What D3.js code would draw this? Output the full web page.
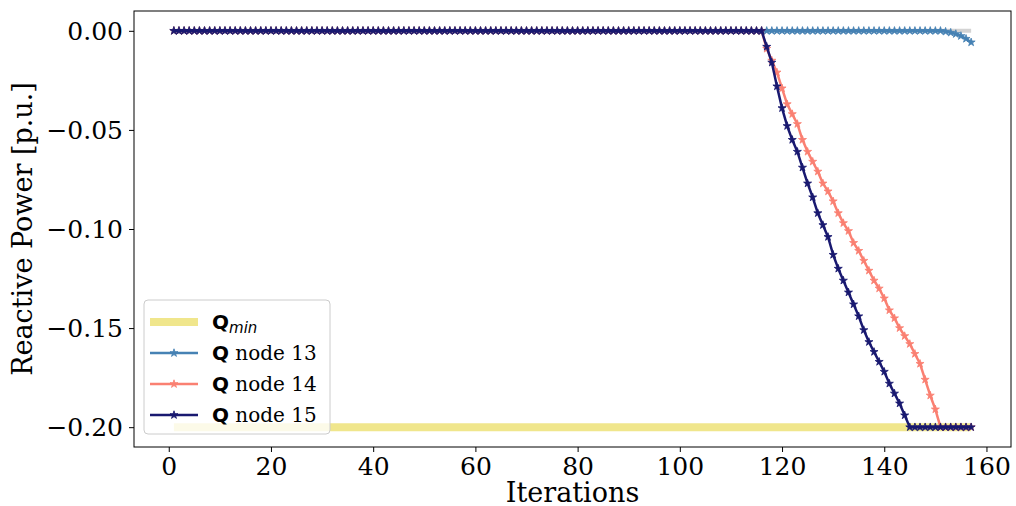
<!DOCTYPE html>
<html lang="en">
<head>
  <meta charset="UTF-8">
  <script src="https://d3js.org/d3.v7.min.js"></script>
  <title>Reactive Power per Iteration</title>
  <style>
    body { margin: 0; background: #fff; }
    .axis text { font-family: "DejaVu Serif", serif; font-size: 25px; fill: #000; }
    .axis path, .axis line { stroke: #000; stroke-width: 1px; }
    .label { font-family: "DejaVu Serif", serif; font-size: 27px; fill: #000; }
    .legend text { font-family: "DejaVu Serif", serif; font-size: 20px; fill: #000; }
  </style>
</head>
<body>
  <svg width="1016" height="506"></svg>
  <script>
    const width = 1016, height = 506;
    const margin = { top: 11, right: 5, bottom: 59, left: 134 };

    // iterations 1..157
    const iterations = d3.range(1, 158);

    // Qmax (grey, hidden under the others) and Qmin limits
    const qMax = [
      0,0,0,0,0,0,0,0,0,0,0,0,0,0,0,0,0,0,0,0,
      0,0,0,0,0,0,0,0,0,0,0,0,0,0,0,0,0,0,0,0,
      0,0,0,0,0,0,0,0,0,0,0,0,0,0,0,0,0,0,0,0,
      0,0,0,0,0,0,0,0,0,0,0,0,0,0,0,0,0,0,0,0,
      0,0,0,0,0,0,0,0,0,0,0,0,0,0,0,0,0,0,0,0,
      0,0,0,0,0,0,0,0,0,0,0,0,0,0,0,0,0,0,0,0,
      0,0,0,0,0,0,0,0,0,0,0,0,0,0,0,0,0,0,0,0,
      0,0,0,0,0,0,0,0,0,0,0,0,0,0,0,0,0
    ];
    const qMin = [
      -0.2,-0.2,-0.2,-0.2,-0.2,-0.2,-0.2,-0.2,-0.2,-0.2,-0.2,-0.2,-0.2,-0.2,-0.2,-0.2,-0.2,-0.2,-0.2,-0.2,
      -0.2,-0.2,-0.2,-0.2,-0.2,-0.2,-0.2,-0.2,-0.2,-0.2,-0.2,-0.2,-0.2,-0.2,-0.2,-0.2,-0.2,-0.2,-0.2,-0.2,
      -0.2,-0.2,-0.2,-0.2,-0.2,-0.2,-0.2,-0.2,-0.2,-0.2,-0.2,-0.2,-0.2,-0.2,-0.2,-0.2,-0.2,-0.2,-0.2,-0.2,
      -0.2,-0.2,-0.2,-0.2,-0.2,-0.2,-0.2,-0.2,-0.2,-0.2,-0.2,-0.2,-0.2,-0.2,-0.2,-0.2,-0.2,-0.2,-0.2,-0.2,
      -0.2,-0.2,-0.2,-0.2,-0.2,-0.2,-0.2,-0.2,-0.2,-0.2,-0.2,-0.2,-0.2,-0.2,-0.2,-0.2,-0.2,-0.2,-0.2,-0.2,
      -0.2,-0.2,-0.2,-0.2,-0.2,-0.2,-0.2,-0.2,-0.2,-0.2,-0.2,-0.2,-0.2,-0.2,-0.2,-0.2,-0.2,-0.2,-0.2,-0.2,
      -0.2,-0.2,-0.2,-0.2,-0.2,-0.2,-0.2,-0.2,-0.2,-0.2,-0.2,-0.2,-0.2,-0.2,-0.2,-0.2,-0.2,-0.2,-0.2,-0.2,
      -0.2,-0.2,-0.2,-0.2,-0.2,-0.2,-0.2,-0.2,-0.2,-0.2,-0.2,-0.2,-0.2,-0.2,-0.2,-0.2,-0.2
    ];

    // node 13: flat, small dip at the very end
    const qNode13 = [
      0,0,0,0,0,0,0,0,0,0,0,0,0,0,0,0,0,0,0,0,
      0,0,0,0,0,0,0,0,0,0,0,0,0,0,0,0,0,0,0,0,
      0,0,0,0,0,0,0,0,0,0,0,0,0,0,0,0,0,0,0,0,
      0,0,0,0,0,0,0,0,0,0,0,0,0,0,0,0,0,0,0,0,
      0,0,0,0,0,0,0,0,0,0,0,0,0,0,0,0,0,0,0,0,
      0,0,0,0,0,0,0,0,0,0,0,0,0,0,0,0,0,0,0,0,
      0,0,0,0,0,0,0,0,0,0,0,0,0,0,0,0,0,0,0,0,
      0,0,0,0,0,0,0,0,0,0,0,-0.0004,-0.0009,-0.0016,-0.0026,-0.004,-0.0058
    ];

    // node 14
    const qNode14 = [
      0,0,0,0,0,0,0,0,0,0,0,0,0,0,0,0,0,0,0,0,
      0,0,0,0,0,0,0,0,0,0,0,0,0,0,0,0,0,0,0,0,
      0,0,0,0,0,0,0,0,0,0,0,0,0,0,0,0,0,0,0,0,
      0,0,0,0,0,0,0,0,0,0,0,0,0,0,0,0,0,0,0,0,
      0,0,0,0,0,0,0,0,0,0,0,0,0,0,0,0,0,0,0,0,
      0,0,0,0,0,0,0,0,0,0,0,0,0,0,0,0,
      -0.009,-0.015,-0.021,-0.029,-0.037,-0.042,-0.047,-0.055,-0.061,-0.066,
      -0.071,-0.077,-0.081,-0.086,-0.092,-0.097,-0.101,-0.107,-0.111,-0.116,
      -0.121,-0.126,-0.130,-0.135,-0.141,-0.145,-0.150,-0.154,-0.158,-0.163,
      -0.168,-0.176,-0.184,-0.191,-0.2,
      -0.2,-0.2,-0.2,-0.2,-0.2,-0.2
    ];

    // node 15
    const qNode15 = [
      0,0,0,0,0,0,0,0,0,0,0,0,0,0,0,0,0,0,0,0,
      0,0,0,0,0,0,0,0,0,0,0,0,0,0,0,0,0,0,0,0,
      0,0,0,0,0,0,0,0,0,0,0,0,0,0,0,0,0,0,0,0,
      0,0,0,0,0,0,0,0,0,0,0,0,0,0,0,0,0,0,0,0,
      0,0,0,0,0,0,0,0,0,0,0,0,0,0,0,0,0,0,0,0,
      0,0,0,0,0,0,0,0,0,0,0,0,0,0,0,0,
      -0.008,-0.016,-0.028,-0.039,-0.048,-0.055,-0.061,-0.069,-0.077,-0.084,
      -0.092,-0.098,-0.104,-0.113,-0.120,-0.126,-0.132,-0.138,-0.144,-0.151,
      -0.157,-0.162,-0.167,-0.172,-0.178,-0.183,-0.188,-0.194,-0.2,
      -0.2,-0.2,-0.2,-0.2,-0.2,-0.2,-0.2,-0.2,-0.2,-0.2,-0.2,-0.2
    ];

    const xTicks = [0, 20, 40, 60, 80, 100, 120, 140, 160];
    const yTicks = [0, -0.05, -0.10, -0.15, -0.20];

    const series = [
      { key: "qmax", values: qMax, color: "#d3d3d3", width: 4, marker: false },
      { key: "qmin", values: qMin, color: "#f0e68c", width: 8, marker: false },
      { key: "13", values: qNode13, color: "#4682b4", width: 2.5, marker: true },
      { key: "14", values: qNode14, color: "#fa8072", width: 2.5, marker: true },
      { key: "15", values: qNode15, color: "#191970", width: 2.5, marker: true }
    ];

    const svg = d3.select("svg");
    const x = d3.scaleLinear().domain([-6.8, 164.8]).range([margin.left, width - margin.right]);
    const y = d3.scaleLinear().domain([-0.21, 0.01]).range([height - margin.bottom, margin.top]);
    const minus = s => s.replace("-", "\u2212");

    const line = d3.line()
      .x((d, i) => x(iterations[i]))
      .y(d => y(d));

    const star = d3.symbol().type(d3.symbolStar).size(20);

    series.forEach(s => {
      svg.append("path")
        .attr("d", line(s.values))
        .attr("fill", "none")
        .attr("stroke", s.color)
        .attr("stroke-width", s.width)
        .attr("stroke-linejoin", "round");
      if (s.marker) {
        svg.append("g").selectAll("path")
          .data(s.values)
          .join("path")
          .attr("d", star)
          .attr("transform", (d, i) => `translate(${x(iterations[i])},${y(d)})`)
          .attr("fill", s.color)
          .attr("stroke", s.color)
          .attr("stroke-width", 0.8);
      }
    });

    // axes
    svg.append("g")
      .attr("class", "axis")
      .attr("transform", `translate(0,${height - margin.bottom})`)
      .call(d3.axisBottom(x).tickValues(xTicks).tickSize(5).tickPadding(5).tickFormat(d3.format("d")))
      .call(g => g.select(".domain").remove());

    svg.append("g")
      .attr("class", "axis")
      .attr("transform", `translate(${margin.left},0)`)
      .call(d3.axisLeft(y).tickValues(yTicks).tickSize(5).tickPadding(6).tickFormat(d => minus(d3.format(".2f")(d))))
      .call(g => g.select(".domain").remove())
      .selectAll("text").attr("dy", "0.35em");

    // frame
    svg.append("rect")
      .attr("x", margin.left)
      .attr("y", margin.top)
      .attr("width", width - margin.left - margin.right)
      .attr("height", height - margin.top - margin.bottom)
      .attr("fill", "none")
      .attr("stroke", "#000")
      .attr("stroke-width", 1);

    svg.append("text")
      .attr("class", "label")
      .attr("x", (margin.left + width - margin.right) / 2)
      .attr("y", 502)
      .attr("text-anchor", "middle")
      .text("Iterations");

    svg.append("text")
      .attr("class", "label")
      .attr("transform", `translate(32,${(margin.top + height - margin.bottom) / 2}) rotate(-90)`)
      .attr("text-anchor", "middle")
      .text("Reactive Power [p.u.]");

    // legend
    const legend = svg.append("g").attr("class", "legend");
    legend.append("rect")
      .attr("x", 144).attr("y", 300)
      .attr("width", 186).attr("height", 134)
      .attr("rx", 4)
      .attr("fill", "#fff").attr("fill-opacity", 0.8)
      .attr("stroke", "#ccc");

    const legendItems = [
      { s: series[1], label: null },
      { s: series[2], label: " node 13" },
      { s: series[3], label: " node 14" },
      { s: series[4], label: " node 15" }
    ];

    legendItems.forEach((item, i) => {
      const cy = 322 + i * 31;
      legend.append("line")
        .attr("x1", 150).attr("x2", 198)
        .attr("y1", cy).attr("y2", cy)
        .attr("stroke", item.s.color)
        .attr("stroke-width", item.s.width);
      if (item.s.marker) {
        legend.append("path")
          .attr("d", star)
          .attr("transform", `translate(174,${cy})`)
          .attr("fill", item.s.color)
          .attr("stroke", item.s.color)
          .attr("stroke-width", 0.8);
      }
      const t = legend.append("text")
        .attr("x", 212).attr("y", cy + 7);
      t.append("tspan")
        .style("font-family", "'DejaVu Sans', sans-serif")
        .style("font-weight", "bold")
        .text("Q");
      if (item.label === null) {
        t.append("tspan")
          .style("font-family", "'DejaVu Sans', sans-serif")
          .style("font-style", "italic")
          .style("font-size", "15px")
          .attr("dy", 4)
          .text("min");
      } else {
        t.append("tspan").text(item.label);
      }
    });
  </script>
</body>
</html>
